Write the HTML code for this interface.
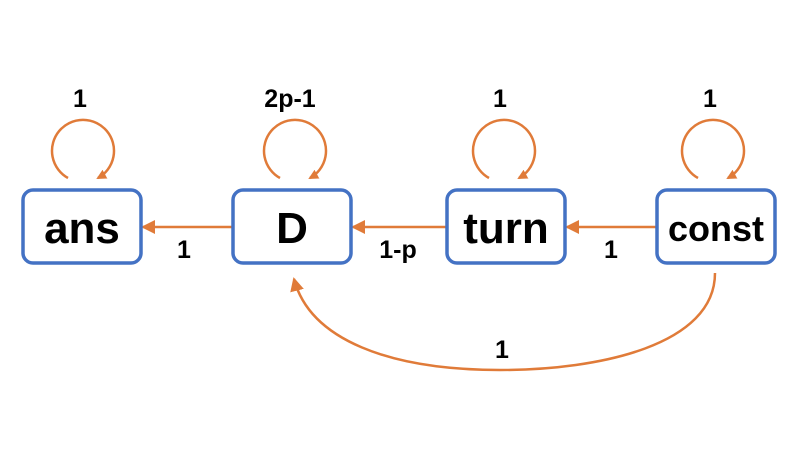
<!DOCTYPE html>
<html><head><style>
body{margin:0;background:#fff}
svg text{font-family:"Liberation Sans",sans-serif;font-weight:bold;fill:#000}
</style></head><body>
<svg width="800" height="453" viewBox="0 0 800 453" xmlns="http://www.w3.org/2000/svg">
<defs><marker id="a" markerWidth="10" markerHeight="10" refX="8" refY="5" orient="auto" markerUnits="userSpaceOnUse"><path d="M0,0 L10,5 L0,10 z" fill="#E07B39"/></marker>
<marker id="b" markerWidth="14" markerHeight="14" refX="12" refY="7" orient="auto" markerUnits="userSpaceOnUse"><path d="M0,0 L14,7 L0,14 z" fill="#E07B39"/></marker></defs>
<g fill="none" stroke="#E07B39" stroke-width="2.5">
<path d="M68,178 A31,31 0 1 1 98,178" marker-end="url(#a)"/>
<path d="M280,178 A31,31 0 1 1 310,178" marker-end="url(#a)"/>
<path d="M489,178 A31,31 0 1 1 519,178" marker-end="url(#a)"/>
<path d="M698,178 A31,31 0 1 1 728,178" marker-end="url(#a)"/>
<path d="M232,227 L143,227" marker-end="url(#b)"/>
<path d="M446,227 L353,227" marker-end="url(#b)"/>
<path d="M656,227 L567,227" marker-end="url(#b)"/>
<path d="M715,273 C715,345 600,370 500,370 C390,370 310,340 294,279" marker-end="url(#b)"/>
</g>
<g fill="#fff" stroke="#4472C4" stroke-width="3.5">
<rect x="23" y="190" width="118" height="73" rx="10"/>
<rect x="233" y="190" width="118" height="73" rx="10"/>
<rect x="447" y="190" width="118" height="73" rx="10"/>
<rect x="657" y="190" width="118" height="73" rx="10"/>
</g>
<g text-anchor="middle">
<text x="82" y="243" font-size="44">ans</text>
<text x="292" y="243" font-size="44">D</text>
<text x="506" y="243" font-size="44">turn</text>
<text x="716" y="241" font-size="36">const</text>
<g font-size="25">
<text x="80" y="107">1</text>
<text x="290" y="107">2p-1</text>
<text x="500" y="107">1</text>
<text x="710" y="107">1</text>
<text x="184" y="258">1</text>
<text x="398" y="258">1-p</text>
<text x="611" y="258">1</text>
<text x="502" y="358">1</text>
</g></g>
</svg>
</body></html>
